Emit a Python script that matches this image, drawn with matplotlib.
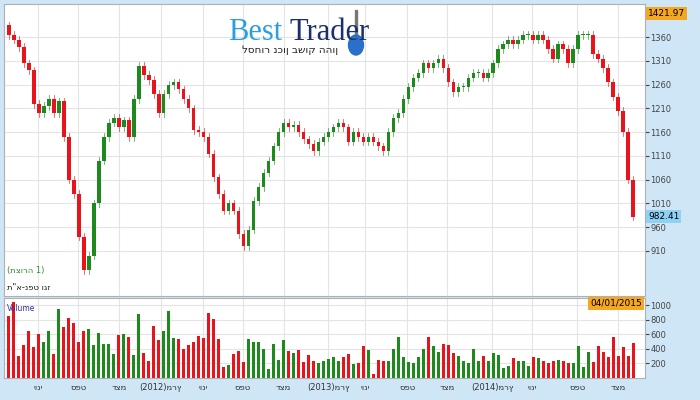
import matplotlib
matplotlib.use("Agg")
import matplotlib.pyplot as plt
from matplotlib.patches import Rectangle, Ellipse

closes = [1365,1355,1340,1305,1290,1220,1200,1215,1230,1200,1225,1150,1060,1030,940,870,900,1010,1100,1150,
1180,1190,1170,1185,1150,1230,1300,1280,1270,1240,1200,1240,1260,1265,1250,1230,1210,1165,1160,1150,
1115,1065,1030,995,1010,995,945,920,955,1015,1045,1075,1100,1130,1160,1180,1170,1175,1160,1145,
1135,1120,1140,1150,1160,1170,1180,1170,1140,1160,1150,1140,1150,1140,1130,1120,1160,1190,1200,1230,
1255,1275,1285,1305,1295,1305,1315,1295,1265,1245,1255,1255,1275,1285,1285,1275,1285,1305,1335,1345,
1355,1345,1355,1365,1365,1355,1365,1355,1335,1315,1345,1335,1305,1335,1365,1365,1365,1325,1315,1295,
1265,1235,1205,1160,1060,982.41]
first_open = 1385
volumes = [850,1050,300,450,650,430,600,500,640,330,950,700,830,760,500,640,680,460,620,470,
470,330,590,600,560,310,880,350,230,710,520,650,920,550,540,400,460,500,580,550,
900,810,530,150,180,330,370,220,540,500,500,400,120,470,250,520,370,340,390,220,
310,230,200,230,260,290,240,290,330,190,200,440,380,60,250,230,240,400,560,290,
220,210,290,400,570,440,360,470,460,340,300,240,210,400,240,300,230,350,310,140,
160,280,230,240,160,290,280,240,200,240,250,240,210,200,440,150,360,220,440,360,
290,560,300,420,300,480,260,360,310,220,260,390,250,140,280,200,240,300,220,410,
240]
yticks = [910,960,1010,1060,1110,1160,1210,1260,1310,1360]
vticks = [200,400,600,800,1000]
xlabels = ["יוני","ספט","דצמ","(2012)מרץ","יוני","ספט","דצמ","(2013)מרץ","יוני","ספט","דצמ","(2014)מרץ","יוני","ספט","דצמ"]
xlabel_px = [37,77,118,160,202,242,283,328,365,407,447,492,532,577,618]

n = len(closes)
volumes = volumes[:n]
opens = [first_open] + closes[:-1]
UP, DN = "#1e8a1e", "#e8131b"

fig = plt.figure(figsize=(7, 4), dpi=100)
fig.patch.set_facecolor("#cfe6f7")
W, H = 700, 400
def rect(l, t, r, b):
    return [l / W, 1 - b / H, (r - l) / W, (b - t) / H]

xmin, xmax = -1, (645 - 8) / 5
ax = fig.add_axes(rect(4, 4, 645, 296))
vax = fig.add_axes(rect(4, 298, 645, 378))
for a in (ax, vax):
    a.set_facecolor("white")
    a.set_xlim(xmin, xmax)
    for s in a.spines.values():
        s.set_color("#b0b0b0")
    a.yaxis.tick_right()
    a.tick_params(axis="y", labelsize=6, colors="#444444", length=3, pad=1)
    a.tick_params(axis="x", length=0)
    a.set_xticks([(p - 8) / 5 for p in xlabel_px])
    a.grid(True, color="#e4e4e4", lw=0.8)
    a.set_axisbelow(True)

ax.set_ylim(815, 1430)
ax.set_yticks(yticks)
ax.set_xticklabels([])
vax.set_ylim(0, 1100)
vax.set_yticks(vticks)
vax.set_xticklabels(xlabels, fontsize=6, color="#333333")

for i in range(n):
    o, c = opens[i], closes[i]
    col = UP if c >= o else DN
    hi, lo = max(o, c) + 8, min(o, c) - 8
    ax.plot([i, i], [lo, hi], color=col, lw=0.6, alpha=0.7)
    ax.add_patch(Rectangle((i - 0.35, min(o, c)), 0.7, max(abs(c - o), 2), color=col, lw=0))
    vax.bar(i, volumes[i], width=0.6, color=col)

ax.text(0.005, 0.08, "(תצורה 1)", transform=ax.transAxes, fontsize=6, color="#2e8b2e")
ax.text(0.005, 0.02, 'ת"א-נפט וגז', transform=ax.transAxes, fontsize=6, color="#222222")
ax.text(1.005, 1410, "1421.97", transform=ax.get_yaxis_transform(), fontsize=6.5, va="center",
        bbox=dict(boxstyle="square,pad=0.2", fc="#f5a623", ec="none"))
ax.text(1.005, 982.41, "982.41", transform=ax.get_yaxis_transform(), fontsize=6.5, va="center",
        bbox=dict(boxstyle="square,pad=0.2", fc="#8fd0f5", ec="none"))
vax.text(0.004, 0.93, "Volume", transform=vax.transAxes, fontsize=5.5, color="#3030a0", va="top")
vax.text(0.995, 0.99, "04/01/2015", transform=vax.transAxes, fontsize=6.5, ha="right", va="top",
         bbox=dict(boxstyle="square,pad=0.2", fc="#f5a623", ec="none"))

fig.text(228 / W, 1 - 32 / H, "Best", fontsize=22, family="Liberation Serif", color="#2a9fdc", va="center")
fig.text(289 / W, 1 - 32 / H, "Trader", fontsize=22, family="Liberation Serif", color="#1b2f6e", va="center")
fig.text(290 / W, 1 - 50 / H, "לסחור נכון בשוק ההון", fontsize=7.5, color="#222222", ha="center", va="center")
fig.patches.append(Rectangle((355 / W, 1 - 36 / H), 2 / W, 26 / H, transform=fig.transFigure, color="#777777"))
fig.patches.append(Ellipse((356 / W, 1 - 45 / H), 15 / W, 20 / H, transform=fig.transFigure, color="#2a6fc9"))

fig.savefig("out.png", dpi=100, facecolor=fig.get_facecolor())
